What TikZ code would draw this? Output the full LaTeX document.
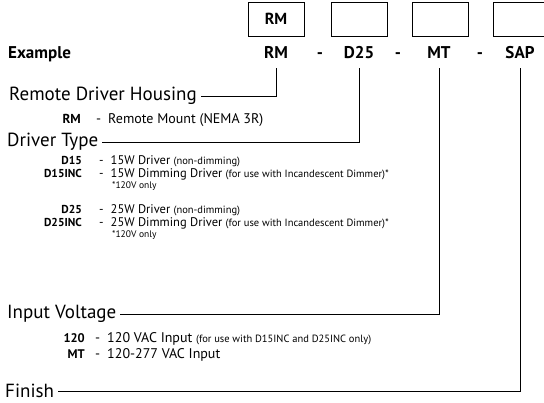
\documentclass[tikz,border=0pt]{standalone}
\usepackage{fontspec}
\setmainfont{PT Sans}
\usetikzlibrary{positioning,calc}
\tikzset{
  codebox/.style={draw=black, line width=0.9pt, minimum width=56pt, minimum height=34pt,
    inner sep=0pt, font=\fontsize{16}{18}\selectfont\bfseries},
  rowcode/.style={anchor=base, inner sep=0pt, font=\fontsize{17}{19}\selectfont\bfseries},
  heading/.style={anchor=west, inner sep=4pt, font=\fontsize{19}{21}\selectfont},
  itemcode/.style={anchor=base east, inner sep=0pt, font=\fontsize{11.5}{13}\selectfont\bfseries},
  itemtext/.style={anchor=base west, inner sep=0pt, font=\fontsize{14}{16}\selectfont},
  drvtext/.style={itemtext, font=\fontsize{12.5}{14}\selectfont},
  leader/.style={draw=black, line width=0.8pt},
  smalltxt/.style={font=\fontsize{9.5}{11}\selectfont}
}
\newcommand{\aside}[1]{{\fontsize{10.5}{12}\selectfont #1}}
\newcommand{\sep}{-\hspace{7pt}}
\begin{document}
\begin{tikzpicture}[x=1pt,y=-1pt]
  \useasboundingbox (0,0) rectangle (544,402);

  % order code boxes
  \node[codebox] (boxrm) at (276,19) {RM};
  \node[codebox] (boxd) at (359,19) {};
  \node[codebox] (boxmt) at (440.5,19) {};
  \node[codebox] (boxsap) at (521,19) {};

  % example row
  \node[rowcode, anchor=base west] (example) at (8,58) {Example};
  \node[rowcode] (rmcode) at (276,58) {RM};
  \node[rowcode] (dash1) at (320,58) {-};
  \node[rowcode] (dcode) at (359,58) {D25};
  \node[rowcode] (dash2) at (398,58) {-};
  \node[rowcode] (mtcode) at (439,58) {MT};
  \node[rowcode] (dash3) at (480,58) {-};
  \node[rowcode] (sapcode) at (520,58) {SAP};

  % remote driver housing
  \node[heading] (housing) at (5,96) {Remote Driver Housing};
  \node[itemcode, font=\fontsize{13}{15}\selectfont\bfseries] (rm) at (81,123) {RM};
  \node[itemtext] (rmtxt) at (96,123) {\sep Remote Mount (NEMA 3R)};

  % driver type
  \node[heading] (drvtype) at (3,142) {Driver Type};
  \node[itemcode] (d15) at (82,164) {D15};
  \node[drvtext] (d15txt) at (99,164) {\sep 15W Driver \aside{(non-dimming)}};
  \node[itemcode] (d15inc) at (82,177) {D15INC};
  \node[drvtext] (d15inctxt) at (99,177) {\sep 15W Dimming Driver \aside{(for use with Incandescent Dimmer)*}};
  \node[itemtext, smalltxt] (d15note) at (112,188) {*120V only};
  \node[itemcode] (d25) at (82,213) {D25};
  \node[drvtext] (d25txt) at (99,213) {\sep 25W Driver \aside{(non-dimming)}};
  \node[itemcode] (d25inc) at (82,226) {D25INC};
  \node[drvtext] (d25inctxt) at (99,226) {\sep 25W Dimming Driver \aside{(for use with Incandescent Dimmer)*}};
  \node[itemtext, smalltxt] (d25note) at (112,237) {*120V only};

  % input voltage
  \node[heading] (voltage) at (3,314) {Input Voltage};
  \node[itemcode, font=\fontsize{12.5}{14}\selectfont\bfseries] (v120) at (85,342) {120};
  \node[itemtext] (v120txt) at (95,342) {\sep 120 VAC Input \aside{(for use with D15INC and D25INC only)}};
  \node[itemcode, font=\fontsize{12.5}{14}\selectfont\bfseries] (vmt) at (85,358) {MT};
  \node[itemtext] (vmttxt) at (95,358) {\sep 120-277 VAC Input};

  % finish
  \node[heading] (finish) at (1,391) {Finish};

  \draw[leader] (housing.east) -| ([yshift=-10pt]rmcode.base);
  \draw[leader] (drvtype.east) -| ([yshift=-10pt]dcode.base);
  \draw[leader] (voltage.east) -| ([yshift=-10pt]mtcode.base);
  \draw[leader] (finish.east) -| ([yshift=-10pt]sapcode.base);
\end{tikzpicture}
\end{document}
